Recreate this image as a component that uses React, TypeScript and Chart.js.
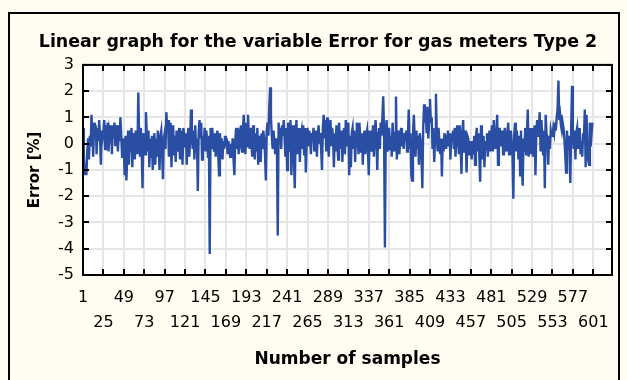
import React, { useEffect, useRef } from "react";
import { Chart, registerables } from "chart.js";

Chart.register(...registerables);

// Error [%] by sample number, samples 1..600
const errors001to120 = [
  0.6, -0.4, -1.2, -0.8, -1.2, -0.3, 0.2, -0.6, 0.3, -0.1, 1.1, 0.4, -0.5, 0.8, 0.2, 0.7, -0.4, 0.6, 0.1, 0.9, 0.3, -0.8, 0.5, 0.2,
  0.4, 0.9, -0.2, 0.7, 0.1, 0.8, -0.3, 0.5, 0.3, 0.7, -0.4, 0.6, 0.2, 0.8, -0.1, 0.5, 0.7, -0.3, 0.4, 0.1, 1.0, 0.3, -0.5, 0.2,
  -0.2, -1.2, 0.3, -1.4, -0.5, 0.5, -0.8, 0.2, -0.3, 0.6, -0.9, 0.4, 0.1, -0.6, 0.5, 0.2, -0.4, 1.95, 0.3, -0.5, 0.6, -0.3, -1.7, 0.4,
  0.1, -0.4, 1.2, 0.4, -0.3, 0.5, -0.9, 0.2, -0.5, 0.3, -1.0, -0.2, 0.4, -0.8, 0.2, -0.5, 0.5, -0.2, -1.0, 0.3, 0.5, -0.3, -1.35, 0.2,
  0.4, -0.2, 1.2, 0.6, 0.9, -0.5, 0.3, 0.8, -0.9, 0.2, 0.7, -0.4, 0.3, -0.7, 0.5, 0.1, -0.3, 0.6, -0.6, 0.5, 0.2, -0.8, 0.6, 0.3,
];
const errors121to240 = [
  -0.1, 0.4, -0.8, 0.3, 0.6, -0.5, 0.2, 1.3, 0.3, -0.2, 0.5, -0.6, 0.7, -0.3, 0.2, -1.8, 0.4, 0.9, 0.2, 0.8, -0.6, 0.3, -0.2, 0.6,
  -0.3, 0.5, 0.1, -0.5, 0.3, -4.2, 0.6, -0.2, 0.6, 0.1, -0.3, 0.4, -0.5, 0.2, 0.5, -0.4, -1.2, 0.4, -0.3, 0.2, -0.6, 0.1, -0.2, 0.3,
  -0.1, 0.2, -0.4, 0.1, -0.2, -0.5, 0.0, -0.3, 0.2, -0.6, -1.2, 0.1, 0.6, -0.2, 0.6, -0.4, 0.3, 0.1, 0.7, -0.3, 0.5, 1.1, 0.2, -0.4,
  0.8, -0.1, 1.1, 0.3, -0.2, 0.6, 0.1, -0.5, 0.7, 0.2, -0.6, 0.4, -0.3, 0.6, -0.8, 0.3, 0.1, -0.7, 0.4, -0.2, 0.5, 0.2, -0.4, -1.4,
  0.5, 0.8, 0.3, 1.4, 2.15, 1.0, 0.3, -0.2, 0.5, 0.1, -0.4, 0.2, -0.1, -3.5, 0.8, 0.2, 0.6, -0.2, 0.7, 0.3, 0.9, 0.2, -0.5, 0.6,
];
const errors241to360 = [
  -1.0, 0.8, 0.2, -0.3, 0.9, -1.2, 0.4, 0.7, -0.6, -1.7, 0.3, 0.9, -0.4, 0.2, 0.6, -0.7, 0.3, 0.5, -0.2, 0.7, -0.4, 0.6, -1.1, 0.1,
  0.6, -0.1, 0.5, 0.2, -0.4, 0.4, 0.1, 0.6, -0.3, 0.2, 0.5, -0.5, 0.3, 0.7, 0.0, 0.4, -0.2, -1.0, 0.6, 1.1, 0.2, 0.9, -0.3, 1.0,
  0.3, -0.5, 0.4, 0.9, -0.1, 0.6, 0.2, -0.9, 0.4, -0.3, 0.7, 0.1, -0.6, 0.8, 0.2, -0.2, 0.5, -0.7, 0.3, 0.6, -0.4, 0.9, -0.1, 0.4,
  0.8, -1.2, 0.3, -0.9, 0.4, 0.6, -0.2, 0.5, -0.7, 0.3, 0.8, 0.1, -0.4, 0.8, 0.2, -0.3, 0.4, -0.8, 0.2, 0.5, -0.4, 0.3, 0.5, -0.2,
  -1.2, 0.2, 0.5, -0.3, 0.1, 0.7, -0.5, 0.3, 0.9, 0.2, -1.0, 0.4, 0.6, -0.2, 0.8, 0.3, 1.0, 1.8, 0.4, -3.95, 0.5, 0.9, -0.3, 0.2,
];
const errors361to480 = [
  0.6, -0.2, 0.3, -0.5, 0.8, 0.2, -0.3, 0.4, 1.8, -0.6, 0.3, 0.5, -0.4, 0.2, 0.6, -0.1, 0.3, -0.2, 0.4, 0.1, 0.5, -0.3, 0.2, 1.3,
  -0.2, 0.4, -1.2, -1.4, 0.3, 1.1, 0.2, -0.5, 0.5, -0.2, 0.3, -0.8, 0.4, 0.1, -0.5, -1.7, 0.6, 1.5, 0.8, 1.3, 0.4, 1.4, 0.2, 0.9,
  1.7, 0.8, 1.0, -0.2, 0.6, -0.7, 0.3, 1.9, 0.3, -0.3, 0.6, 0.1, -0.4, 0.2, -1.25, 0.2, -0.3, 0.4, 0.1, -0.2, 0.3, 0.5, -0.1, 0.4,
  -0.6, 0.4, 0.2, 0.5, -0.2, 0.6, -0.5, 0.3, 0.7, 0.1, -0.4, 0.7, -0.1, -1.15, 0.4, 0.9, -0.3, 0.5, 0.2, -1.1, 0.3, 0.2, -0.4, 0.1,
  -0.2, -0.6, 0.1, -0.4, 0.3, -0.8, 0.2, 0.6, -0.3, 0.4, -0.5, -1.45, 0.7, 0.2, -0.6, 0.3, -0.9, 0.1, -0.2, 0.4, -0.5, 0.2, 0.5, -0.3,
];
const errors481to600 = [
  0.3, 0.7, -0.3, 0.9, 0.1, -0.2, 0.4, 1.1, -0.8, 0.3, 0.6, -0.1, 0.2, 0.5, -0.4, 0.3, 0.6, 0.0, -0.3, 0.4, 0.8, -0.4, 0.2, 0.5,
  0.1, -0.5, -2.1, 0.3, 0.8, -0.3, 0.5, 0.1, -0.6, 0.3, -1.2, 0.5, -0.9, -1.6, 0.2, -0.3, 0.6, -0.4, 0.4, 1.3, -0.5, 0.2, 0.6, -0.4,
  0.6, -0.5, 0.2, 0.7, -1.2, 0.4, 0.9, 0.3, 0.6, 1.2, -0.3, 0.9, 0.2, -0.4, 0.5, -1.7, 1.1, 0.4, 0.2, -0.8, 0.3, -0.2, 0.5, 0.3,
  0.3, 0.6, 0.4, 0.8, 0.5, 1.0, 1.3, 2.4, 0.9, 1.1, 0.7, 0.5, 0.8, 0.6, 0.2, -0.4, -1.1, 0.5, 0.0, 0.3, -0.3, -1.5, 0.6, 2.2,
  0.3, -0.2, 0.5, -0.6, 0.4, 0.6, -0.2, 0.3, 0.6, -0.4, 0.1, -0.5, 0.4, 0.2, 1.3, -0.9, 1.1, 0.2, -0.6, -0.8, 0.8, -0.1, 0.4, 0.8,
];

const xTickLabels = [
  1, 25, 49, 73, 97, 121, 145, 169, 193, 217, 241, 265, 289, 313, 337, 361, 385, 409, 433, 457, 481, 505, 529, 553, 577, 601,
];
const yTickLabels = [3, 2, 1, 0, -1, -2, -3, -4, -5];

const TITLE = "Linear graph for the variable Error for gas meters Type 2";
const X_TITLE = "Number of samples";
const Y_TITLE = "Error [%]";

const CREAM = "#fffcf2";
const LINE = "#2a4ea3";
const GRID = "#e6e6e6";

const frameTicks = {
  id: "frameTicks",
  beforeDraw(chart: any) {
    const { ctx, chartArea: a, width, height } = chart;
    ctx.save();
    ctx.fillStyle = CREAM;
    ctx.fillRect(0, 0, width, height);
    ctx.fillStyle = "#ffffff";
    ctx.fillRect(a.left, a.top, a.right - a.left, a.bottom - a.top);
    ctx.strokeStyle = "#000000";
    ctx.lineWidth = 2;
    ctx.strokeRect(9, 13, 610, 400);
    ctx.restore();
  },
  afterDatasetsDraw(chart: any) {
    const { ctx, chartArea: a, scales } = chart;
    ctx.save();
    ctx.strokeStyle = "#000000";
    ctx.lineWidth = 2;
    ctx.beginPath();
    scales.x.ticks.forEach((t: any) => {
      const px = Math.round(scales.x.getPixelForValue(t.value));
      ctx.moveTo(px, a.bottom);
      ctx.lineTo(px, a.bottom - 6);
      ctx.moveTo(px, a.top);
      ctx.lineTo(px, a.top + 6);
    });
    scales.y.ticks.forEach((t: any) => {
      const py = Math.round(scales.y.getPixelForValue(t.value));
      ctx.moveTo(a.left, py);
      ctx.lineTo(a.left + 6, py);
      ctx.moveTo(a.right, py);
      ctx.lineTo(a.right - 6, py);
    });
    ctx.stroke();
    ctx.strokeRect(a.left, a.top, a.right - a.left, a.bottom - a.top);
    ctx.restore();
  },
};

export default function App() {
  const canvasRef = useRef<HTMLCanvasElement | null>(null);

  useEffect(() => {
    const canvas = canvasRef.current;
    if (!canvas) return;
    const values = [
      ...errors001to120,
      ...errors121to240,
      ...errors241to360,
      ...errors361to480,
      ...errors481to600,
    ];
    const points = values.map((v, i) => ({ x: i + 1, y: v }));

    const chart = new Chart(canvas, {
      type: "line",
      data: {
        datasets: [
          {
            data: points,
            borderColor: LINE,
            borderWidth: 2.4,
            pointRadius: 0,
            tension: 0,
            fill: false,
          },
        ],
      },
      options: {
        animation: false,
        responsive: false,
        devicePixelRatio: 1,
        layout: { padding: { left: 24, right: 15, top: 0, bottom: 0 } },
        plugins: {
          legend: { display: false },
          tooltip: { enabled: false },
          title: {
            display: true,
            text: TITLE,
            color: "#000",
            font: { family: "DejaVu Sans", size: 17.4, weight: "bold", lineHeight: 1.2 },
            padding: { top: 32, bottom: 12 },
          },
        },
        scales: {
          x: {
            type: "linear",
            min: 1,
            max: 623,
            afterBuildTicks: (scale: any) => {
              scale.ticks = xTickLabels.map((v) => ({ value: v }));
            },
            afterFit: (scale: any) => {
              scale.height = 105;
            },
            grid: { color: GRID, lineWidth: 2, drawTicks: false },
            border: { display: false },
            ticks: {
              autoSkip: false,
              maxRotation: 0,
              minRotation: 0,
              padding: 10,
              color: "#000",
              font: { family: "DejaVu Sans", size: 16, lineHeight: 1.5625 },
              callback: (value: any, index: number) =>
                index % 2 === 0 ? String(value) : ["", String(value)],
            },
            title: {
              display: true,
              text: X_TITLE,
              color: "#000",
              font: { family: "DejaVu Sans", size: 17, weight: "bold", lineHeight: 1.2 },
              padding: { top: 0, bottom: 10 },
            },
          },
          y: {
            type: "linear",
            min: -5,
            max: 3,
            afterBuildTicks: (scale: any) => {
              scale.ticks = yTickLabels.map((v) => ({ value: v }));
            },
            afterFit: (scale: any) => {
              scale.width = 59;
            },
            grid: { color: GRID, lineWidth: 2, drawTicks: false },
            border: { display: false },
            ticks: {
              padding: 9,
              color: "#000",
              font: { family: "DejaVu Sans", size: 16 },
              callback: (value: any) => String(value),
            },
            title: {
              display: true,
              text: Y_TITLE,
              color: "#000",
              font: { family: "DejaVu Sans", size: 15, weight: "bold", lineHeight: 1.2 },
              padding: { top: 2, bottom: 0 },
            },
          },
        },
      },
      plugins: [frameTicks],
    } as any);

    return () => chart.destroy();
  }, []);

  return (
    <div style={{ position: "absolute", left: 0, top: 0, width: 627, height: 380, overflow: "hidden" }}>
      <canvas ref={canvasRef} width={627} height={380} style={{ display: "block", width: 627, height: 380 }} />
    </div>
  );
}
